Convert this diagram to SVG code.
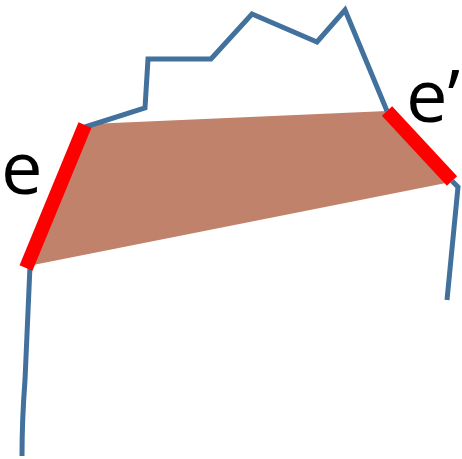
<svg xmlns="http://www.w3.org/2000/svg" width="462" height="459" viewBox="0 0 462 459">
<style>
.blue{fill:none;stroke:#41719C;stroke-width:5;stroke-linejoin:miter}
.red{stroke:#FF0000;stroke-width:14;stroke-linecap:butt}
.lbl{font-family:"Open Sans","Liberation Sans",sans-serif;font-size:74px;fill:#000}
</style>
<rect width="462" height="459" fill="#fff"/>
<g id="region">
<polygon points="90,124 387,111 451,182 28,266" fill="#C1826C"/>
</g>
<g id="connectors">
<polyline class="blue" points="85,127 145,108 148,59 211,59 252,14 317,42 345,10 387,111"/>
<path class="blue" d="M30,266 Q27,330 25,380 Q22,420 22,456"/>
<polyline class="blue" points="452,181 458,187 447,300"/>
</g>
<g id="edge-e">
<line class="red" x1="85" y1="125" x2="26" y2="268"/>
<text class="lbl" x="1" y="194">e</text>
</g>
<g id="edge-e-prime">
<line class="red" x1="387" y1="111" x2="452" y2="181"/>
<text class="lbl" x="406" y="122">e’</text>
</g>
</svg>
